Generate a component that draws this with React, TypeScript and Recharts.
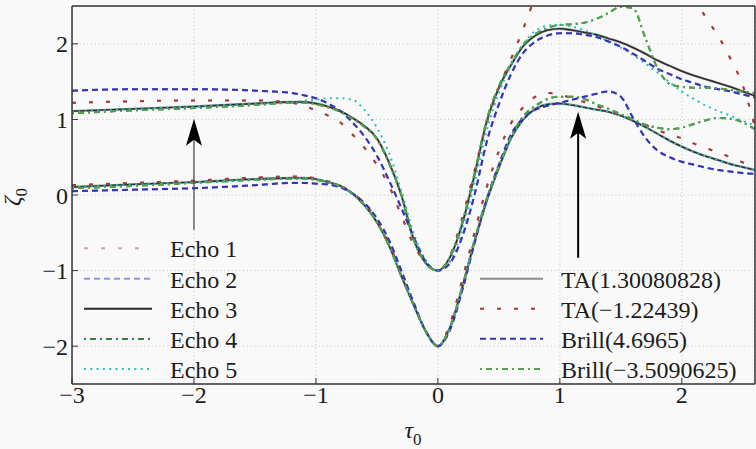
import {
  LineChart,
  Line,
  XAxis,
  YAxis,
  CartesianGrid,
  ReferenceLine,
  ReferenceDot,
} from "recharts";

// tau_0 sample positions (coarse on the flat left tail)
const TAU = [
  -3, -2.5, -2, -1.5,
  -1.2, -1.1, -1.0, -0.9, -0.8, -0.7, -0.6, -0.5, -0.4, -0.3, -0.2, -0.1,
  0,
  0.1, 0.2, 0.3, 0.4, 0.5, 0.6, 0.7, 0.8, 0.9, 1.0,
  1.1, 1.2, 1.3, 1.4, 1.5, 1.6, 1.7, 1.8, 1.9, 2.0,
  2.1, 2.2, 2.3, 2.4, 2.5, 2.6,
];

// TA(1.30080828) / Echo 3
const taPlusUpper = [
  1.11, 1.14, 1.17, 1.21,
  1.23, 1.23, 1.21, 1.17, 1.11, 1.02, 0.91, 0.75, 0.43, 0.0, -0.58, -0.9,
  -1.0,
  -0.82, -0.38, 0.26, 0.97, 1.42, 1.72, 1.97, 2.11, 2.18, 2.2,
  2.18, 2.15, 2.12, 2.07, 2.02, 1.95, 1.87, 1.78, 1.71, 1.64,
  1.58, 1.53, 1.48, 1.43, 1.37, 1.31,
];
const taPlusLower = [
  0.105, 0.14, 0.17, 0.21,
  0.225, 0.225, 0.21, 0.17, 0.12, 0.02, -0.14, -0.36, -0.67, -1.07, -1.45, -1.8,
  -2.0,
  -1.75, -1.22, -0.62, -0.08, 0.36, 0.75, 1.0, 1.14, 1.2, 1.21,
  1.19, 1.16, 1.13, 1.1, 1.05, 0.98, 0.9, 0.81, 0.72, 0.64,
  0.57, 0.51, 0.46, 0.41, 0.37, 0.33,
];

// TA(-1.22439) / Echo 1
const taMinusUpper = [
  1.22, 1.24, 1.25, 1.25,
  1.22, 1.18, 1.12, 1.05, 0.96, 0.8, 0.62, 0.4, 0.12, -0.27, -0.65, -0.9,
  -1.0,
  -0.8, -0.3, 0.32, 0.95, 1.42, 1.8, 2.2, 2.62, 2.95, 3.2,
  3.4, 3.55, 3.65, 3.7, 3.7, 3.65, 3.55, 3.4, 3.2, 2.95,
  2.62, 2.34, 2.1, 1.8, 1.45, 0.9,
];
const taMinusLower = [
  0.13, 0.16, 0.19, 0.23,
  0.245, 0.24, 0.22, 0.18, 0.12, 0.03, -0.12, -0.33, -0.64, -1.05, -1.45, -1.8,
  -2.0,
  -1.7, -1.12, -0.5, 0.1, 0.58, 0.95, 1.16, 1.3, 1.35, 1.33,
  1.28, 1.23, 1.18, 1.11, 1.05, 1.0, 0.93, 0.86, 0.8, 0.75,
  0.68, 0.62, 0.56, 0.5, 0.43, 0.37,
];

// Brill(4.6965) / Echo 2
const brillPlusUpper = [
  1.38, 1.4, 1.4, 1.38,
  1.35, 1.32, 1.28, 1.21, 1.11, 0.96, 0.77, 0.52, 0.19, -0.17, -0.55, -0.88,
  -1.0,
  -0.9, -0.55, 0.0, 0.7, 1.2, 1.6, 1.88, 2.03, 2.11, 2.14,
  2.14, 2.12, 2.09, 2.03, 1.96, 1.87, 1.77, 1.67, 1.6, 1.53,
  1.48, 1.43, 1.4, 1.37, 1.33, 1.29,
];
const brillPlusLower = [
  0.05, 0.07, 0.09, 0.13,
  0.16, 0.16, 0.15, 0.14, 0.1, 0.02, -0.11, -0.31, -0.6, -1.0, -1.42, -1.8,
  -2.0,
  -1.78, -1.26, -0.64, -0.06, 0.4, 0.8, 1.02, 1.13, 1.18, 1.22,
  1.26, 1.3, 1.34, 1.37, 1.3, 1.02, 0.76, 0.59, 0.5, 0.44,
  0.4, 0.36, 0.33, 0.31, 0.29, 0.28,
];

// Brill(-3.5090625) / Echo 4
const brillMinusUpper = [
  1.08, 1.12, 1.15, 1.19,
  1.22, 1.22, 1.2, 1.16, 1.1, 1.01, 0.9, 0.74, 0.42, 0.0, -0.58, -0.9,
  -1.0,
  -0.82, -0.36, 0.28, 0.99, 1.44, 1.74, 1.99, 2.13, 2.21, 2.25,
  2.26, 2.28, 2.33, 2.41, 2.49, 2.47, 2.08, 1.68, 1.47, 1.43,
  1.42, 1.42, 1.41, 1.39, 1.37, 1.35,
];
const brillMinusLower = [
  0.09, 0.12, 0.16, 0.2,
  0.215, 0.215, 0.2, 0.165, 0.115, 0.015, -0.14, -0.36, -0.67, -1.07, -1.45, -1.8,
  -2.0,
  -1.75, -1.22, -0.6, -0.05, 0.38, 0.77, 1.04, 1.18, 1.27, 1.3,
  1.3, 1.27, 1.2, 1.14, 1.07, 1.0, 0.93, 0.89, 0.87, 0.89,
  0.94, 0.99, 1.02, 1.01, 0.96, 0.87,
];

// Echo 5
const echo5Upper = [
  1.1, 1.14, 1.17, 1.21,
  1.23, 1.25, 1.26, 1.28, 1.28, 1.26, 1.12, 0.89, 0.55, 0.06, -0.5, -0.86,
  -1.0,
  -0.88, -0.45, 0.15, 0.85, 1.35, 1.72, 2.0, 2.17, 2.24, 2.25,
  2.23, 2.18, 2.11, 2.03, 1.95, 1.85, 1.74, 1.62, 1.49, 1.37,
  1.27, 1.18, 1.11, 1.05, 0.98, 0.92,
];
const echo5Lower = taPlusLower;

const X_TICKS = [-3, -2, -1, 0, 1, 2];
const Y_TICKS = [-2, -1, 0, 1, 2];
const X_MINOR = [
  -3, -2.8, -2.6, -2.4, -2.2, -2, -1.8, -1.6, -1.4, -1.2, -1, -0.8, -0.6, -0.4,
  -0.2, 0, 0.2, 0.4, 0.6, 0.8, 1, 1.2, 1.4, 1.6, 1.8, 2, 2.2, 2.4, 2.6,
];
const Y_MINOR = [
  -2.4, -2.2, -2, -1.8, -1.6, -1.4, -1.2, -1, -0.8, -0.6, -0.4, -0.2, 0, 0.2,
  0.4, 0.6, 0.8, 1, 1.2, 1.4, 1.6, 1.8, 2, 2.2, 2.4,
];

// arrows: shaft from -> tip
const ARROWS = [
  { x: -2, from: -0.46, to: 1.01, width: 1.2, color: "#444" },
  { x: 1.15, from: -0.83, to: 1.1, width: 2, color: "#000" },
];

interface Series {
  key: string;
  name: string;
  upper: number[];
  lower: number[];
  stroke: string;
  width: number;
  dash?: string;
}

const ECHO: Series[] = [
  { key: "e1", name: "Echo 1", upper: taMinusUpper, lower: taMinusLower, stroke: "#d6a2a2", width: 2.2, dash: "4 13" },
  { key: "e2", name: "Echo 2", upper: brillPlusUpper, lower: brillPlusLower, stroke: "#9292e0", width: 2.2, dash: "6 4" },
  { key: "e3", name: "Echo 3", upper: taPlusUpper, lower: taPlusLower, stroke: "#2a2a2a", width: 1.3 },
  { key: "e4", name: "Echo 4", upper: brillMinusUpper, lower: brillMinusLower, stroke: "#2e862e", width: 2, dash: "2 4 6 4" },
  { key: "e5", name: "Echo 5", upper: echo5Upper, lower: echo5Lower, stroke: "#2cbcbc", width: 2, dash: "2 4.3" },
];

const THEORY: Series[] = [
  { key: "t1", name: "TA(1.30080828)", upper: taPlusUpper, lower: taPlusLower, stroke: "#8a8a8a", width: 2.4 },
  { key: "t2", name: "TA(\u22121.22439)", upper: taMinusUpper, lower: taMinusLower, stroke: "#a43a3a", width: 2, dash: "4 13" },
  { key: "t3", name: "Brill(4.6965)", upper: brillPlusUpper, lower: brillPlusLower, stroke: "#3434b8", width: 2, dash: "6 4" },
  { key: "t4", name: "Brill(\u22123.5090625)", upper: brillMinusUpper, lower: brillMinusLower, stroke: "#52a252", width: 2, dash: "2 4 6 4" },
];

// gray TA solid underneath the thin black echo
const DRAW_ORDER = [ECHO[0], ECHO[1], THEORY[0], ECHO[2], ECHO[3], ECHO[4], THEORY[1], THEORY[2], THEORY[3]];

const data = TAU.map((tau, i) => {
  const row: Record<string, number> = { tau };
  [...ECHO, ...THEORY].forEach((s) => {
    row[s.key + "U"] = s.upper[i];
    row[s.key + "L"] = s.lower[i];
  });
  return row;
});

const BG = "#f9f9f9";
const FONT = "Liberation Serif, DejaVu Serif, serif";
const INK = "#1c1c1c";
const TICK = "#333";
const tickFont = { fill: INK, fontSize: 24, fontFamily: FONT };
const fmt = (v: number) => (v < 0 ? `\u2212${-v}` : `${v}`);
const frame = { stroke: TICK, strokeWidth: 1.5 };
const THIN = 0.01; // axes need a non-zero box to be drawn

const ArrowHead = (props: any) => {
  const { cx, cy } = props;
  return (
    <polygon
      points={`${cx},${cy} ${cx + 8},${cy + 27} ${cx},${cy + 21} ${cx - 8},${cy + 27}`}
      fill="#000"
    />
  );
};

const LegendBlock = ({ items, x0, x1, tx, rows }: { items: Series[]; x0: number; x1: number; tx: number; rows: number[] }) => (
  <>
    {items.map((s, i) => (
      <g key={s.key}>
        <line x1={x0} x2={x1} y1={rows[i]} y2={rows[i]} stroke={s.stroke} strokeWidth={2} strokeDasharray={s.dash} />
        <text x={tx} y={rows[i] + 9} fill={INK} fontSize={24} fontFamily={FONT}>
          {s.name}
        </text>
      </g>
    ))}
  </>
);

export default function App() {
  return (
    <div style={{ position: "absolute", left: 0, top: 0, width: 756, height: 449, background: BG }}>
      <LineChart width={756} height={449} data={data} margin={{ top: 6, right: 1, bottom: 65, left: 72 }}>
        <CartesianGrid stroke="#c4c4c4" strokeDasharray="1 2.8" />
        <XAxis
          dataKey="tau"
          type="number"
          domain={[-3, 2.6]}
          ticks={X_TICKS}
          interval={0}
          allowDataOverflow
          height={THIN}
          tickSize={-6}
          tickMargin={8}
          tickFormatter={fmt}
          tick={tickFont}
          axisLine={frame}
          tickLine={{ stroke: TICK }}
        />
        <XAxis xAxisId="xm" dataKey="tau" type="number" domain={[-3, 2.6]} ticks={X_MINOR} interval={0} allowDataOverflow height={THIN} tickSize={-3.5} tick={false} axisLine={false} tickLine={{ stroke: TICK }} />
        <XAxis xAxisId="xt" orientation="top" dataKey="tau" type="number" domain={[-3, 2.6]} ticks={X_TICKS} interval={0} allowDataOverflow height={THIN} tickSize={-6} tick={false} axisLine={frame} tickLine={{ stroke: TICK }} />
        <XAxis xAxisId="xtm" orientation="top" dataKey="tau" type="number" domain={[-3, 2.6]} ticks={X_MINOR} interval={0} allowDataOverflow height={THIN} tickSize={-3.5} tick={false} axisLine={false} tickLine={{ stroke: TICK }} />
        <YAxis
          type="number"
          domain={[-2.5, 2.5]}
          ticks={Y_TICKS}
          interval={0}
          allowDataOverflow
          width={THIN}
          tickSize={-6}
          tickMargin={10}
          tickFormatter={fmt}
          tick={tickFont}
          axisLine={frame}
          tickLine={{ stroke: TICK }}
        />
        <YAxis yAxisId="ym" type="number" domain={[-2.5, 2.5]} ticks={Y_MINOR} interval={0} allowDataOverflow width={THIN} tickSize={-3.5} tick={false} axisLine={false} tickLine={{ stroke: TICK }} />
        <YAxis yAxisId="yr" orientation="right" type="number" domain={[-2.5, 2.5]} ticks={Y_TICKS} interval={0} allowDataOverflow width={THIN} tickSize={-6} tick={false} axisLine={frame} tickLine={{ stroke: TICK }} />
        <YAxis yAxisId="yrm" orientation="right" type="number" domain={[-2.5, 2.5]} ticks={Y_MINOR} interval={0} allowDataOverflow width={THIN} tickSize={-3.5} tick={false} axisLine={false} tickLine={{ stroke: TICK }} />

        {DRAW_ORDER.flatMap((s) =>
          ["U", "L"].map((b) => (
            <Line
              key={s.key + b}
              dataKey={s.key + b}
              type="monotone"
              stroke={s.stroke}
              strokeWidth={s.width}
              strokeDasharray={s.dash}
              dot={false}
              activeDot={false}
              legendType="none"
              isAnimationActive={false}
            />
          ))
        )}

        {ARROWS.map((a) => (
          <ReferenceLine
            key={`s${a.x}`}
            segment={[
              { x: a.x, y: a.from },
              { x: a.x, y: a.to - 0.26 },
            ]}
            stroke={a.color}
            strokeWidth={a.width}
          />
        ))}
        {ARROWS.map((a) => (
          <ReferenceDot key={`h${a.x}`} x={a.x} y={a.to} r={1} shape={ArrowHead} />
        ))}
      </LineChart>

      <svg
        width={756}
        height={449}
        style={{ position: "absolute", left: 0, top: 0, pointerEvents: "none" }}
      >
        <LegendBlock items={ECHO} x0={84} x1={152} tx={170} rows={[248.3, 278.7, 308.7, 339, 369]} />
        <LegendBlock items={THEORY} x0={480} x1={543} tx={561} rows={[278.7, 308.7, 338.7, 369]} />
        <text x={413} y={438} textAnchor="middle" fill={INK} fontSize={24} fontFamily={FONT}>
          <tspan fontStyle="italic">τ</tspan>
          <tspan fontSize={17} dy={7}>0</tspan>
        </text>
        <text x={20} y={197} transform="rotate(-90 20 197)" textAnchor="middle" fill={INK} fontSize={24} fontFamily={FONT}>
          <tspan fontStyle="italic">ζ</tspan>
          <tspan fontSize={17} dy={7}>0</tspan>
        </text>
      </svg>
    </div>
  );
}
